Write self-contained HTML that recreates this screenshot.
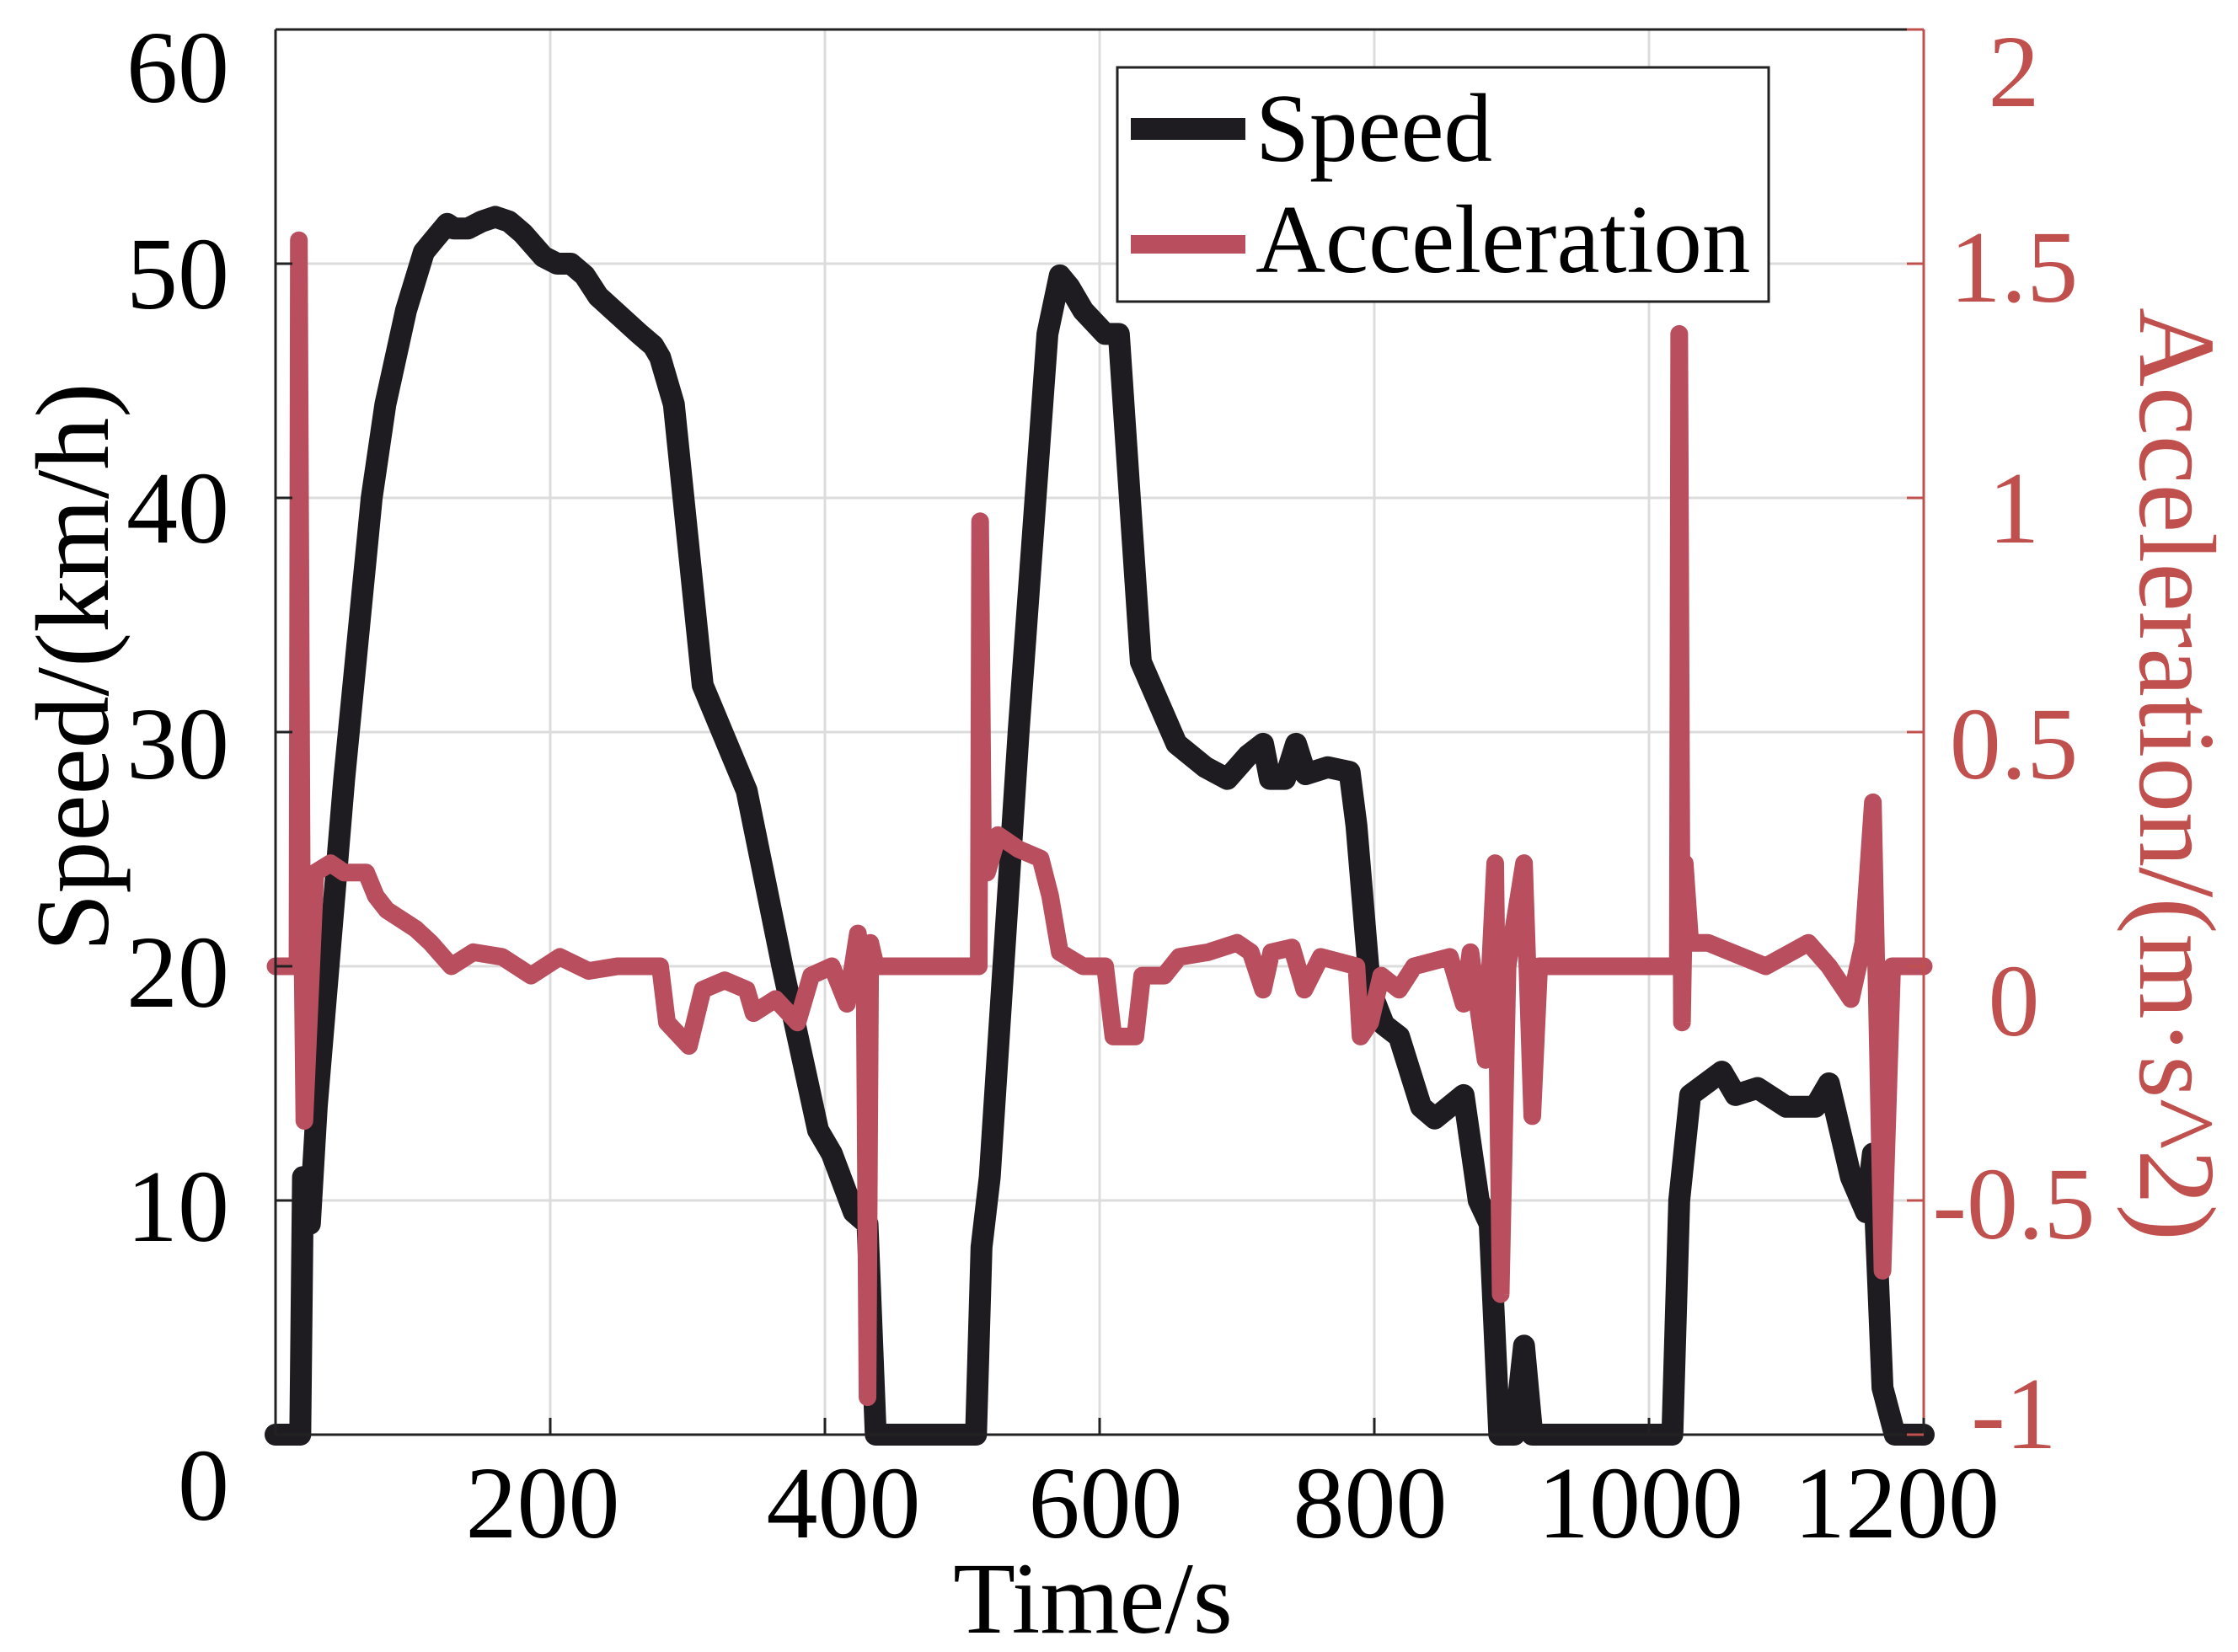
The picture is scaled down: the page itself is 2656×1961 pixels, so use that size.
<!DOCTYPE html>
<html><head><meta charset="utf-8"><style>
html,body{margin:0;padding:0;background:#fff;}
svg{display:block;font-family:"Liberation Serif",serif;}
</style></head><body>
<svg id="chart" width="2656" height="1961" viewBox="0 0 2656 1961" xmlns="http://www.w3.org/2000/svg">
<rect x="0" y="0" width="2656" height="1961" fill="#fff"/>
<g id="grid"></g>
<g id="series"></g>
<g id="axes"></g>
<g id="legend">
<rect x="1326" y="80" width="773" height="278" fill="#fff" stroke="#222" stroke-width="3"/>
<line x1="1342" y1="153" x2="1478" y2="153" stroke="#1e1b21" stroke-width="26"/>
<text x="1490" y="191" font-size="115" fill="#000">Speed</text>
<line x1="1342" y1="290" x2="1478" y2="290" stroke="#b94f5e" stroke-width="22"/>
<text x="1490" y="323" font-size="115" fill="#000">Acceleration</text>
</g>
<text transform="translate(128,792) rotate(-90)" text-anchor="middle" font-size="124" fill="#000">Speed/(km/h)</text>
<text transform="translate(2540,919) rotate(90)" text-anchor="middle" font-size="130" fill="#c0504d">Acceleration/(m·s^2)</text>
<text x="1297" y="1938" text-anchor="middle" font-size="121" fill="#000">Time/s</text>
</svg>
<script>
const speedT = [0,18,20,23,25,30,50,70,80,95,108,115,125,130,140,150,160,170,180,195,205,215,225,235,250,265,275,280,290,311,343,369,395,405,421,431,437,510,514,520,541,562,571,578,588,604,614,630,656,677,693,708,719,724,735,743,750,766,782,787,797,807,818,834,844,865,876,884,891,902,909,915,1017,1022,1030,1053,1063,1079,1100,1121,1131,1147,1158,1163,1170,1179,1200];
const speedV = [0,0,11,11,9,14,28,40,44,48,50.5,51,51.7,51.5,51.5,51.8,52,51.8,51.3,50.3,50,50,49.5,48.6,47.8,47,46.5,46,44,32,27.5,20,13,12,9.5,9,0,0,8,11,30,47,49.5,49,48,47,47,33,29.5,28.5,28,29,29.5,28,28,29.5,28.2,28.5,28.3,26,19,17.5,17,14,13.5,14.5,10,9,0,0,3.8,0,0,10,14.5,15.5,14.5,14.8,14,14,15,11,9.5,12,2,0,0];
const accT = [0,16,17,19,21,29,40,50,66,73,81,102,113,128,144,165,186,207,228,249,280,285,301,311,327,343,348,364,380,390,405,416,424,429,431,433,437,510,512,513,515,518,526,541,557,564,571,588,604,610,626,631,647,658,679,700,710,719,725,740,749,761,787,790,797,805,818,829,855,865,870,881,888,892,897,909,915,920,1017,1021,1022,1024,1026,1030,1043,1085,1116,1131,1147,1156,1163,1170,1177,1200];
const accV = [0,0,1.55,0.2,-0.33,0.2,0.22,0.2,0.2,0.15,0.12,0.08,0.05,0.0,0.03,0.02,-0.02,0.02,-0.01,0.0,0.0,-0.12,-0.17,-0.05,-0.03,-0.05,-0.1,-0.07,-0.12,-0.02,0.0,-0.08,0.07,-0.05,-0.92,0.05,0.0,0,0,0.95,0.25,0.2,0.28,0.25,0.23,0.15,0.03,0.0,0.0,-0.15,-0.15,-0.02,-0.02,0.02,0.03,0.05,0.03,-0.05,0.03,0.04,-0.05,0.02,0.0,-0.15,-0.12,-0.02,-0.05,0.0,0.02,-0.08,0.03,-0.2,0.22,-0.7,0.0,0.22,-0.32,0,0,0,1.35,-0.12,0.22,0.05,0.05,0.0,0.05,0.0,-0.07,0.05,0.35,-0.65,0.0,0];
const xTicks = [200,400,600,800,1000,1200];
const yTicks = [0,10,20,30,40,50,60];
const rTicks = [-1,-0.5,0,0.5,1,1.5,2];
const rTickLabels = ["-1","-0.5","0","0.5","1","1.5","2"];

// label placement nudges (styling only, pixels)
const xNudge = [-9,22,7,-5,-10,-32];
const yNudge = [58,5,5,12,10,10,43];
const rNudge = [-27,2,39,12,10,2,48];

const L=327,R=2283,T=35,B=1703;
const X=t=>L+(t-0)/(1200-0)*(R-L);
const Y=v=>B-(v-0)/(60-0)*(B-T);
const YR=a=>B-(a+1)/(2+1)*(B-T);
const NS='http://www.w3.org/2000/svg';
function mk(tag,attrs,parent){const e=document.createElementNS(NS,tag);for(const k in attrs)e.setAttribute(k,attrs[k]);parent.appendChild(e);return e;}
const grid=document.getElementById('grid'),series=document.getElementById('series'),axes=document.getElementById('axes');
xTicks.forEach(t=>{const g=mk('line',{x1:X(t),x2:X(t),y1:T,y2:B,stroke:'#dcdcdc','stroke-width':3},grid);

});
yTicks.forEach(v=>{const g=mk('line',{x1:L,x2:R,y1:Y(v),y2:Y(v),stroke:'#dcdcdc','stroke-width':3},grid);

});
const sp=mk('polyline',{points:speedT.map((t,i)=>X(t)+','+Y(speedV[i])).join(' '),fill:'none',stroke:'#1e1b21','stroke-width':26,'stroke-linejoin':'round','stroke-linecap':'round'},series);


const ac=mk('polyline',{points:accT.map((t,i)=>X(t)+','+YR(accV[i])).join(' '),fill:'none',stroke:'#b94f5e','stroke-width':21,'stroke-linejoin':'round','stroke-linecap':'round'},series);


mk('line',{x1:L,x2:L,y1:T,y2:B,stroke:'#222','stroke-width':3},axes);
mk('line',{x1:L,x2:R,y1:B,y2:B,stroke:'#222','stroke-width':3},axes);
mk('line',{x1:L,x2:R,y1:T,y2:T,stroke:'#222','stroke-width':3},axes);
mk('line',{x1:R,x2:R,y1:T,y2:B,stroke:'#c0504d','stroke-width':3},axes);
xTicks.forEach((t,i)=>{mk('line',{x1:X(t),x2:X(t),y1:B,y2:B-20,stroke:'#222','stroke-width':3},axes);
const tx=mk('text',{x:X(t)+xNudge[i],y:1825,'text-anchor':'middle','font-size':122,fill:'#000'},axes);tx.textContent=t;

});
yTicks.forEach((v,i)=>{mk('line',{x1:L,x2:L+20,y1:Y(v),y2:Y(v),stroke:'#222','stroke-width':3},axes);
const tx=mk('text',{x:272,y:Y(v)+43+yNudge[i],'text-anchor':'end','font-size':122,fill:'#000'},axes);tx.textContent=v;

});
rTicks.forEach((a,i)=>{mk('line',{x1:R,x2:R-20,y1:YR(a),y2:YR(a),stroke:'#c0504d','stroke-width':3},axes);
const tx=mk('text',{x:2390,y:YR(a)+43+rNudge[i],'text-anchor':'middle','font-size':122,fill:'#c0504d'},axes);tx.textContent=rTickLabels[i];

});
</script>
</body></html>
